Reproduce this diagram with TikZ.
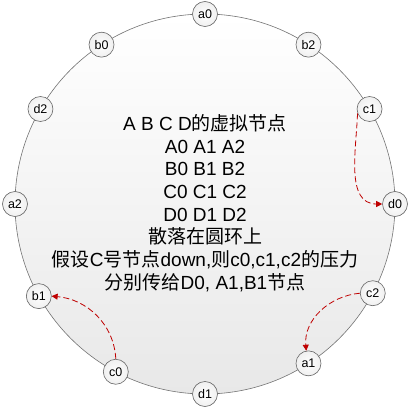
\documentclass[tikz,border=0pt]{standalone}
\usepackage{fontspec}
\setmainfont{Liberation Sans}
\newfontfamily\cjk{Noto Sans CJK SC}
\usetikzlibrary{arrows.meta, calc}

\begin{document}
\begin{tikzpicture}[
    x = 1pt, y = 1pt,
    every node/.style = {font = \fontsize{12.5}{14}\selectfont},
    ring/.style  = {draw = black!55, line width = 0.6pt, top color = white, bottom color = black!9},
    vnode/.style = {circle, draw = black!60, line width = 0.6pt, inner sep = 0pt, minimum size = 25pt, inner color = white, outer color = black!6},
    note/.style  = {align = center, font = \fontsize{19}{22.7}\selectfont},
    move/.style  = {-{Triangle[length = 6pt, width = 6pt]}, draw = red!75!black, line width = 0.8pt, dash pattern = on 6pt off 3pt},
]

\useasboundingbox (0,0) rectangle (412,408);

% ---------- hash ring ----------
\coordinate (O) at (205,204);
\draw[ring] (O) circle (190pt);

% ---------- virtual nodes, clockwise from the top ----------
\node[vnode] (a0) at ($(O)+(  90:190)$) {a0};
\node[vnode] (b2) at ($(O)+(  57:190)$) {b2};
\node[vnode] (c1) at ($(O)+(  30:190)$) {c1};
\node[vnode] (d0) at ($(O)+(   0:190)$) {d0};
\node[vnode] (c2) at ($(O)+( -28:190)$) {c2};
\node[vnode] (a1) at ($(O)+( -57:190)$) {a1};
\node[vnode] (d1) at ($(O)+( -90:190)$) {d1};
\node[vnode] (c0) at ($(O)+(-118:190)$) {c0};
\node[vnode] (b1) at ($(O)+(-151:190)$) {b1};
\node[vnode] (a2) at ($(O)+( 180:190)$) {a2};
\node[vnode] (d2) at ($(O)+( 150:190)$) {d2};
\node[vnode] (b0) at ($(O)+( 123:190)$) {b0};

% ---------- description ----------
\node[note] (desc) at (205,205) {A B C D{\cjk 的虚拟节点}\\ A0 A1 A2\\ B0 B1 B2\\ C0 C1 C2\\ D0 D1 D2\\ {\cjk 散落在圆环上}\\ {\cjk 假设}C{\cjk 号节点}down,{\cjk 则}c0,c1,c2{\cjk 的压力}\\ {\cjk 分别传给}D0, A1,B1{\cjk 节点}};

% ---------- load moved away from the C node ----------
\draw[move] (c1.200) to[out = -92, in = 180] (d0.west);
\draw[move] (c2.west) to[out = 185, in = 95] (a1.100);
\draw[move] (c0.north) to[out = 93, in = -5] (b1.east);

\end{tikzpicture}
\end{document}
